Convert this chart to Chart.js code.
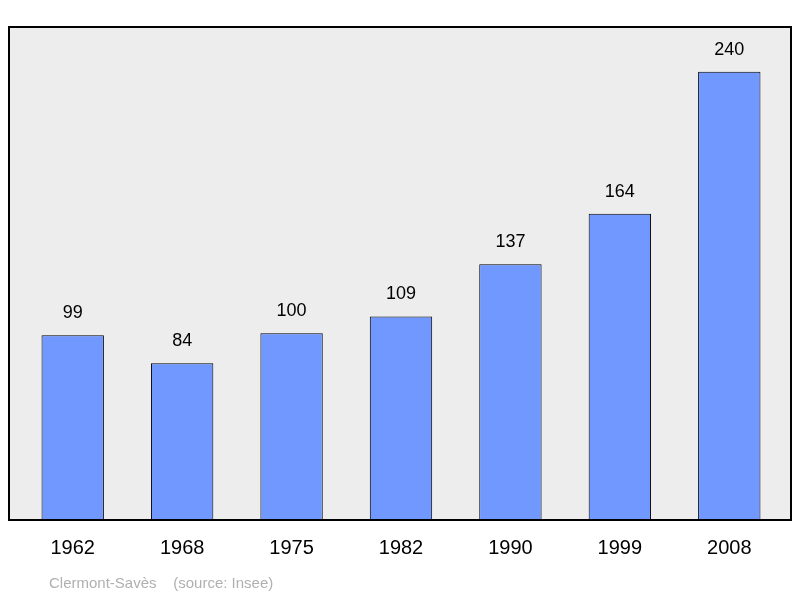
<!DOCTYPE html>
<html><head><meta charset="utf-8">
<script src="https://cdn.jsdelivr.net/npm/chart.js@4/dist/chart.umd.min.js"></script>
<style>body{margin:0;background:#fff}</style>
</head><body><canvas id="c" width="800" height="598"></canvas>
<script>
const years = ['1962','1968','1975','1982','1990','1999','2008']
const population = [99, 84, 100, 109, 137, 164, 240]
const footer = 'Clermont-Savès    (source: Insee)'

const frame = {
  id: 'frame',
  beforeDraw(chart) {
    const {ctx, chartArea: a} = chart
    ctx.save()
    ctx.fillStyle = '#ededed'
    ctx.fillRect(a.left - 9, a.top, a.right - a.left + 16, a.bottom - a.top)
    ctx.restore()
  },
  afterDraw(chart) {
    const {ctx, chartArea: a} = chart
    ctx.save()
    ctx.strokeStyle = '#000'
    ctx.lineWidth = 2
    ctx.strokeRect(a.left - 9, a.top, a.right - a.left + 16, a.bottom - a.top)
    ctx.fillStyle = '#000'
    ctx.font = '18px "Liberation Sans", Arial, sans-serif'
    ctx.textAlign = 'center'
    ctx.textBaseline = 'middle'
    chart.getDatasetMeta(0).data.forEach((bar, i) => {
      ctx.fillText(population[i], bar.x, bar.y - 22)
    })
    ctx.fillStyle = '#b0b0b0'
    ctx.font = '15px "Liberation Sans", Arial, sans-serif'
    ctx.textAlign = 'left'
    ctx.fillText(footer, 49, 584)
    ctx.restore()
  }
}

new Chart(document.getElementById('c'), {
  type: 'bar',
  data: {
    labels: years,
    datasets: [{
      data: population,
      backgroundColor: '#7098ff',
      borderColor: '#000',
      borderWidth: 1,
      borderSkipped: 'bottom',
      categoryPercentage: 1,
      barPercentage: 0.57
    }]
  },
  options: {
    responsive: false,
    animation: false,
    devicePixelRatio: 1,
    layout: {padding: {left: 18, right: 16, top: 27, bottom: 30}},
    plugins: {legend: {display: false}, tooltip: {enabled: false}},
    scales: {
      x: {
        grid: {display: false},
        border: {display: false},
        ticks: {color: '#000', maxRotation: 0, autoSkip: false, font: {size: 20, family: '"Liberation Sans", Arial, sans-serif'}, padding: 8}
      },
      y: {
        display: false,
        min: 0,
        max: 264
      }
    }
  },
  plugins: [frame]
})
</script>
</body></html>
